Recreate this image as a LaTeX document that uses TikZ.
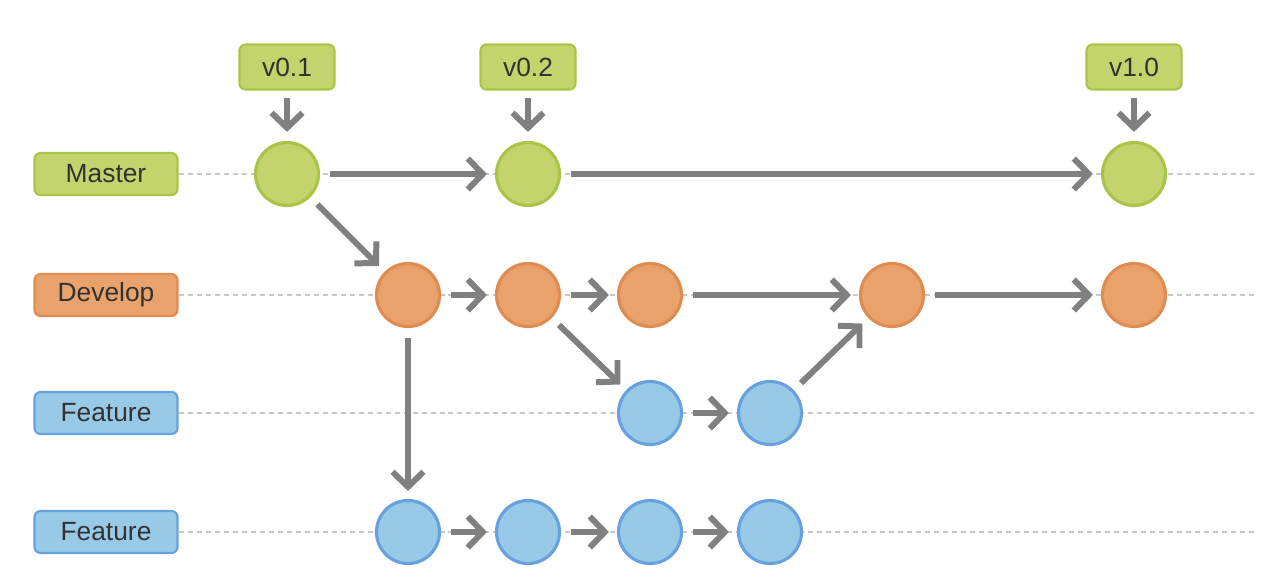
\documentclass[tikz,border=0pt]{standalone}
\usepackage{fontspec}
\setmainfont{Liberation Sans}
\usetikzlibrary{arrows.meta,backgrounds,positioning}
\definecolor{mfill}{RGB}{195,212,108}
\definecolor{mline}{RGB}{170,196,72}
\definecolor{dfill}{RGB}{234,162,108}
\definecolor{dline}{RGB}{222,140,82}
\definecolor{ffill}{RGB}{152,202,232}
\definecolor{fline}{RGB}{104,162,222}
\definecolor{arrgray}{RGB}{128,128,128}
\definecolor{dashgray}{RGB}{200,200,200}
\definecolor{txtgray}{RGB}{50,50,50}
\tikzstyle{mc}=[circle, fill=mfill, draw=mline, line width=1.8pt, minimum size=1.26cm, inner sep=0pt]
\tikzstyle{dc}=[circle, fill=dfill, draw=dline, line width=1.8pt, minimum size=1.26cm, inner sep=0pt]
\tikzstyle{fc}=[circle, fill=ffill, draw=fline, line width=1.8pt, minimum size=1.26cm, inner sep=0pt]
\tikzstyle{branch}=[rectangle, rounded corners=0.12cm, line width=1.2pt, minimum width=2.86cm, minimum height=0.84cm, text=txtgray, font=\fontsize{15}{17}\selectfont]
\tikzstyle{tag}=[rectangle, fill=mfill, draw=mline, rounded corners=0.12cm, line width=1.2pt, minimum width=1.9cm, minimum height=0.9cm, text=txtgray, font=\fontsize{15}{17}\selectfont]
\tikzstyle{flow}=[draw=arrgray, line width=3.4pt, shorten <=0.2cm, shorten >=0.16cm, -{Straight Barb[length=0.3cm,width=0.62cm]}]
\tikzstyle{lane}=[draw=dashgray, line width=1.1pt, dash pattern=on 0.1cm off 0.08cm]

\begin{document}
\begin{tikzpicture}[x=0.02cm,y=-0.02cm]
\useasboundingbox (0,0) rectangle (1286,576);

%Branch labels
\node[branch, fill=mfill, draw=mline] (lmaster) at (106,174){Master};
\node[branch, fill=dfill, draw=dline] (ldevelop) at (106,295){Develop};
\node[branch, fill=ffill, draw=fline] (lfeatA) at (106,413){Feature};
\node[branch, fill=ffill, draw=fline] (lfeatB) at (106,532){Feature};
\coordinate (emaster) at (1258,174);
\coordinate (edevelop) at (1258,295);
\coordinate (efeatA) at (1258,413);
\coordinate (efeatB) at (1258,532);

%Tags
\node[tag] (t1) at (287,67){v0.1};
\node[tag] (t2) at (528,67){v0.2};
\node[tag] (t3) at (1134,67){v1.0};

%Master
\node[mc] (m1) at (287,174){};
\node[mc] (m2) at (528,174){};
\node[mc] (m3) at (1134,174){};
%Develop
\node[dc] (d1) at (408,295){};
\node[dc] (d2) at (528,295){};
\node[dc] (d3) at (650,295){};
\node[dc] (d4) at (892,295){};
\node[dc] (d5) at (1134,295){};
%Feature one
\node[fc] (fa1) at (650,413){};
\node[fc] (fa2) at (770,413){};
%Feature two
\node[fc] (fb1) at (408,532){};
\node[fc] (fb2) at (528,532){};
\node[fc] (fb3) at (650,532){};
\node[fc] (fb4) at (770,532){};

%lanes
\begin{scope}[on background layer]
\draw[lane] (lmaster.east) -- (emaster);
\draw[lane] (ldevelop.east) -- (edevelop);
\draw[lane] (lfeatA.east) -- (efeatA);
\draw[lane] (lfeatB.east) -- (efeatB);
\end{scope}

%commits
\draw[flow, shorten <=0.14cm, shorten >=0.18cm] (t1) -- (m1);
\draw[flow, shorten <=0.14cm, shorten >=0.18cm] (t2) -- (m2);
\draw[flow, shorten <=0.14cm, shorten >=0.18cm] (t3) -- (m3);
\draw[flow] (m1) -- (m2);
\draw[flow] (m2) -- (m3);
\draw[flow] (m1) -- (d1);
\draw[flow] (d1) -- (d2);
\draw[flow] (d2) -- (d3);
\draw[flow] (d3) -- (d4);
\draw[flow] (d4) -- (d5);
\draw[flow] (d2) -- (fa1);
\draw[flow] (fa1) -- (fa2);
\draw[flow] (fa2) -- (d4);
\draw[flow] (d1) -- (fb1);
\draw[flow] (fb1) -- (fb2);
\draw[flow] (fb2) -- (fb3);
\draw[flow] (fb3) -- (fb4);

\end{tikzpicture}
\end{document}
